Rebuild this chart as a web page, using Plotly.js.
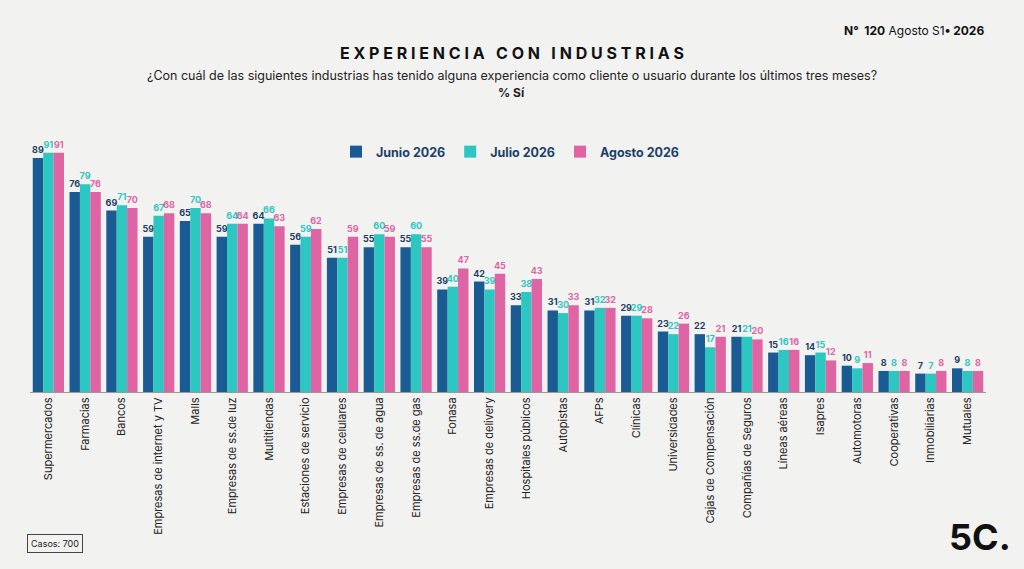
<!DOCTYPE html>
<html><head><meta charset="utf-8">
<script src="https://cdn.plot.ly/plotly-3.0.1.min.js"></script>
<style>body{margin:0;background:#f2f2f1}#c{width:1024px;height:569px}</style>
</head><body><div id="c"></div>
<script>
const categories=["Supermercados","Farmacias","Bancos","Empresas de internet y TV","Malls","Empresas de ss.de luz","Multitiendas","Estaciones de servicio","Empresas de celulares","Empresas de ss. de agua","Empresas de ss.de gas","Fonasa","Empresas de delivery","Hospitales públicos","Autopistas","AFPs","Clínicas","Universidades","Cajas de Compensación","Compañías de Seguros","Líneas aéreas","Isapres","Automotoras","Cooperativas","Inmobiliarias","Mutuales"];
const junio=[89,76,69,59,65,59,64,56,51,55,55,39,42,33,31,31,29,23,22,21,15,14,10,8,7,9];
const julio=[91,79,71,67,70,64,66,59,51,60,60,40,39,38,30,32,29,22,17,21,16,15,9,8,7,8];
const agosto=[91,76,70,68,68,64,63,62,59,59,55,47,45,43,33,32,28,26,21,20,16,12,11,8,8,8];
const names=["Junio 2026","Julio 2026","Agosto 2026"];
const colors=["#1b5b93","#2cc7c1","#e063a3"];
const series=[junio,julio,agosto];
const L=30,R=38,T=129,B=177,H=569-T-B,W=1024-L-R;
const px=x=>(x-L)/W, py=y=>(569-B-y)/H;
const traces=series.map((v,i)=>({type:"bar",name:names[i],x:categories,y:v,marker:{color:colors[i]},
 text:v.map(n=>"<b>"+n+"</b>"),textposition:"outside",cliponaxis:false,constraintext:"none",
 textfont:{family:"Inter, sans-serif",size:9,color:i==0?"#1b3f66":colors[i]}}));
const ann=(text,x,y,font,extra)=>Object.assign({text,xref:"paper",yref:"paper",x:px(x),y:py(y),xanchor:"center",yanchor:"middle",showarrow:false,font},extra||{});
Plotly.newPlot("c",traces,{
 width:1024,height:569,paper_bgcolor:"#f2f2f1",plot_bgcolor:"rgba(0,0,0,0)",
 font:{family:"Inter, sans-serif",color:"#222"},
 barmode:"group",bargap:0.15,bargroupgap:0,
 margin:{l:L,r:R,t:T,b:B},
 xaxis:{automargin:false,tickangle:-90,tickfont:{size:11,color:"#222"},showline:true,linecolor:"#999",ticks:"",showgrid:false},
 yaxis:{automargin:false,range:[0,100],visible:false},
 legend:{orientation:"h",x:px(510),xanchor:"center",y:py(152),yanchor:"middle",font:{size:12.5,color:"#1b3f66",weight:"bold"}},
 annotations:[
  ann("<b>E X P E R I E N C I A   C O N   I N D U S T R I A S</b>",512,53,{size:16,color:"#111"}),
  ann("¿Con cuál de las siguientes industrias has tenido alguna experiencia como cliente o usuario durante los últimos tres meses?",512,76,{size:12.5,color:"#222"}),
  ann("<b>% Sí</b>",512,93,{size:12,color:"#222"}),
  ann("<b>N°  120</b> Agosto S1<b>• 2026</b>",914,31,{size:12,color:"#111"}),
  ann("Casos: 700",55,543,{size:9,color:"#222"},{bordercolor:"#444",borderwidth:1,borderpad:3}),
  ann("<b>5C.</b>",980,537,{size:36,color:"#111"})
 ]
},{displayModeBar:false});
</script></body></html>
